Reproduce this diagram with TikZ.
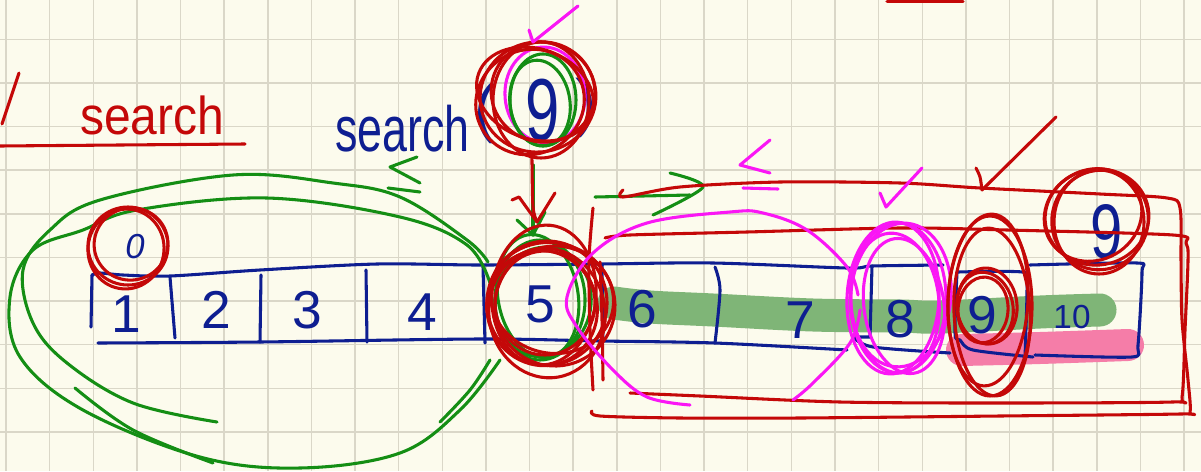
\documentclass[tikz,border=0pt]{standalone}
\usepackage{fontspec}
\setmainfont{Liberation Sans}
\definecolor{paper}{RGB}{252,251,237}
\definecolor{gridc}{RGB}{218,215,200}
\definecolor{inkblue}{RGB}{14,30,145}
\definecolor{inkred}{RGB}{196,8,8}
\definecolor{inkgreen}{RGB}{20,142,20}
\definecolor{inkmag}{RGB}{250,22,245}
\definecolor{hlgreen}{RGB}{127,181,119}
\definecolor{hlpink}{RGB}{245,125,168}
\begin{document}
\begin{tikzpicture}[x=0.75pt,y=-0.75pt,
  ink/.style={line width=2.3pt,line cap=round,line join=round},
  digit/.style={inkblue,font=\fontsize{40}{40}\selectfont,anchor=base,inner sep=0pt},
  hand/.style={smooth,tension=0.6}]
% paper and grid
\fill[paper] (0,0) rectangle (1201,471);
\useasboundingbox (0,0) rectangle (1201,471);
\foreach \i in {0,...,27} \draw[gridc,line width=1.1pt] ({6+43.63*\i},0) -- ({6+43.63*\i},471);
\foreach \j in {0,...,9} \draw[gridc,line width=1.1pt] (0,{39.3+43.63*\j}) -- (1201,{39.3+43.63*\j});

% title
\draw[ink,inkred] (19,73) -- (2,124);
\node[inkred,font=\fontsize{40}{40}\selectfont,anchor=base west,inner sep=0pt] (title) at (80,134) {\scalebox{0.9}[1]{search}};
\draw[ink,inkred] plot[smooth] coordinates {(0,146) (120,145) (245,144)};

% highlighter strokes
\draw[hlgreen,line width=24.75pt,line cap=round] plot[smooth,tension=0.6] coordinates {(614,303) (650,307) (713,310) (813,315) (900,316) (940,317) (1040,312) (1100,310)};
\draw[hlpink,line width=24pt,line cap=round] plot[smooth] coordinates {(962,350) (1040,348) (1128,345)};

% the array
\draw[ink,inkblue] plot[smooth,tension=0.5] coordinates {(92,275) (100,273) (123,275) (170,276) (260,270) (377,264) (480,265) (600,264) (713,263) (847,268) (872,266) (943,265)};
\draw[ink,inkblue] plot[smooth,tension=0.5] coordinates {(98,343) (260,342) (480,339) (600,341) (715,343) (847,350)};
\draw[ink,inkblue] (872,266) -- (870,337) -- (853,337);
\draw[ink,inkblue] plot[smooth,tension=0.5] coordinates {(853,337) (873,347) (950,353)};
\draw[ink,inkblue] plot[smooth,tension=0.5] coordinates {(957,272) (955,333) (960,340) (973,350) (1033,357)};
\draw[ink,inkblue] plot[smooth,tension=0.5] coordinates {(958,272) (1022,272) (1027,282) (1025,357)};
\draw[ink,inkblue] plot[smooth,tension=0.4] coordinates {(1030,265) (1137,263) (1142,272) (1138,345) (1132,357) (1035,355)};
\draw[ink,inkblue] (92,275) -- (91,327);
\draw[ink,inkblue] (170,277) -- (175,338);
\draw[ink,inkblue] (261,275) -- (260,342);
\draw[ink,inkblue] (366,270) -- (367,342);
\draw[ink,inkblue] (483,267) -- (485,343);
\draw[ink,inkblue] (602,265) -- (603,340);
\draw[ink,inkblue] plot[smooth] coordinates {(715,267) (720,290) (715,343)};

\node[digit] (d1) at (126,332) {1};
\node[digit] (d2) at (216,328) {2};
\node[digit] (d3) at (307,328) {3};
\node[digit] (d4) at (422,330) {4};
\node[digit] (d5) at (540,322) {5};
\node[digit] (d6) at (642,327) {6};
\node[digit] (d7) at (800,338) {7};
\node[digit] (d8) at (900,337) {8};
\node[digit] (d9) at (982,333) {9};
\node[digit,font=\fontsize{25}{25}\selectfont] (d10) at (1072,328) {10};
\node[digit,font=\fontsize{26}{26}\selectfont\itshape] (d0) at (135,258) {0};
\node[digit,font=\fontsize{58}{58}\selectfont] (t9) at (1107,258) {\scalebox{0.75}[1]{9}};

% the call
\node[inkblue,font=\fontsize{48}{48}\selectfont,anchor=base west,inner sep=0pt] (call) at (335,151) {\scalebox{0.7}[1]{search}};
\node[inkblue,font=\fontsize{48}{48}\selectfont,anchor=base west,inner sep=0pt] (lpar) at (474,130) {(};
\node[inkblue,font=\fontsize{48}{48}\selectfont,anchor=base west,inner sep=0pt] (rpar) at (575,124) {)};
\node[digit,font=\fontsize{66}{66}\selectfont] (key) at (543,140) {\scalebox{0.7}[1]{9}};

% green lasso on the left half
\draw[ink,inkgreen] plot[hand] coordinates {(488,262) (467,240) (400,197) (333,183) (233,175) (100,200) (50,230) (23,270) (33,323) (67,363) (133,403) (217,422)};
\draw[ink,inkgreen] plot[hand] coordinates {(490,283) (467,245) (400,217) (267,198) (137,210) (83,230) (33,250) (10,297) (20,357) (83,410) (200,457) (300,468) (400,453) (460,410) (500,360)};
\draw[ink,inkgreen] plot[hand] coordinates {(75,388) (133,430) (213,463)};
\draw[ink,inkgreen] plot[hand] coordinates {(440,422) (470,390) (490,360)};
\foreach \cx/\cy/\rx/\ry/\r in {540/300/45/60/0, 538/296/40/62/10, 543/302/48/55/-10}
  \draw[ink,inkgreen] (\cx,\cy) ellipse [x radius=\rx, y radius=\ry, rotate=\r];

% comparison marks
\draw[ink,inkgreen] (417,157) -- (390,167) -- (420,183);
\draw[ink,inkgreen] (388,188) -- (420,192);
\draw[ink,inkmag] (770,140) -- (740,165) -- (770,173);
\draw[ink,inkmag] (743,188) -- (778,189);
\draw[ink,inkgreen] (595,197) -- (690,195);
\draw[ink,inkgreen] plot[smooth] coordinates {(670,173) (703,187) (653,215)};

% circles around the key
\draw[ink,inkmag] (545,95) ellipse [x radius=40, y radius=48, rotate=5];
\draw[ink,inkgreen] (543,100) ellipse [x radius=33, y radius=46];
\draw[ink,inkgreen] (540,103) ellipse [x radius=30, y radius=43, rotate=8];
\foreach \dx/\dy/\rx/\ry/\r in {0/0/58/55/10, 5/-5/52/50/-15, -8/5/55/52/30, 3/3/48/58/0, -3/-3/60/45/-20}
  \draw[ink,inkred] ({538+\dx},{97+\dy}) ellipse [x radius=\rx, y radius=\ry, rotate=\r];
\draw[ink,inkmag] (529,30) -- (533,42) -- (578,6);

% arrow from the key down to the middle element
\coordinate (arrTop) at (532,153);
\coordinate (arrTip) at (537,222);
\coordinate (gTop) at (533,165);
\coordinate (gTip) at (533,235);
\draw[ink,inkgreen] (gTop) -- (gTip);
\draw[ink,inkgreen] (517,220) -- (gTip) -- (545,212);
\draw[ink,inkred] plot[smooth] coordinates {(arrTop) (532,163) (533,207) (arrTip)};
\draw[ink,inkred] (512,200) -- (519,197) -- (arrTip) -- (555,193);

% circles around the middle element
\foreach \dx/\dy/\rx/\ry/\r in {0/0/60/62/0, -5/5/55/58/20, 5/-5/62/55/-15, 0/10/58/65/10, -3/-8/52/70/-5, 8/3/60/60/30, -2/0/50/52/0}
  \draw[ink,inkred] ({547+\dx},{303+\dy}) ellipse [x radius=\rx, y radius=\ry, rotate=\r];

% right half boxes
\draw[ink,inkred] plot[smooth,tension=0.5] coordinates {(623,190) (623,197) (680,187) (780,182) (900,183) (980,188) (1100,194) (1167,198) (1180,208) (1181,260) (1182,320) (1188,380) (1190,412) (1180,414) (1000,416) (800,418) (680,418) (600,416) (592,411)};
\draw[ink,inkred] plot[smooth,tension=0.5] coordinates {(605,238) (630,235) (747,232) (900,228) (1007,230) (1173,235) (1186,243) (1188,260) (1185,330) (1182,397) (1172,402) (1000,403) (840,402) (700,396) (630,393)};
\draw[ink,inkred] plot[smooth] coordinates {(593,208) (589,260) (590,330) (593,390)};
\draw[ink,inkred] plot[smooth] coordinates {(600,262) (602,320) (603,380)};

% magenta lasso towards element 8
\draw[ink,inkmag] plot[hand] coordinates {(690,405) (647,397) (613,370) (577,327) (567,297) (593,253) (647,223) (730,212) (763,213) (807,230) (847,267) (858,295)};
\draw[ink,inkmag] plot[hand] coordinates {(793,400) (813,383) (850,343) (860,310)};
\foreach \dx/\dy/\rx/\ry/\r in {0/0/48/75/0, -3/5/44/70/5, 3/-3/50/72/-5, 6/8/40/68/8, -5/0/46/76/-3}
  \draw[ink,inkmag] ({898+\dx},{298+\dy}) ellipse [x radius=\rx, y radius=\ry, rotate=\r];

% circles around element 9
\foreach \cx/\cy/\rx/\ry/\r in {990/306/42/90/0, 992/312/38/84/3, 988/300/40/86/-3, 985/308/28/36/10, 983/310/25/33/-5, 987/306/30/38/5}
  \draw[ink,inkred] (\cx,\cy) ellipse [x radius=\rx, y radius=\ry, rotate=\r];

% circles around the 9 written above, and around 0
\foreach \dx/\dy/\rx/\ry/\r in {0/0/52/48/10, 3/3/48/50/-20, -4/-2/50/45/30, 2/5/45/52/0}
  \draw[ink,inkred] ({1097+\dx},{217+\dy}) ellipse [x radius=\rx, y radius=\ry, rotate=\r];
\foreach \dx/\dy/\rx/\ry/\r in {0/0/40/39/0, 3/-2/37/36/20, -2/3/38/40/-10}
  \draw[ink,inkred] ({128+\dx},{246+\dy}) ellipse [x radius=\rx, y radius=\ry, rotate=\r];

% ticks
\draw[ink,inkmag] (880,193) -- (886,207) -- (922,168);
\draw[ink,inkred] plot[smooth] coordinates {(976,168) (980,177) (982,190)};
\draw[ink,inkred] (982,190) -- (1056,117);
\draw[ink,inkred] (887,1.5) -- (963,1.5);
\end{tikzpicture}
\end{document}
